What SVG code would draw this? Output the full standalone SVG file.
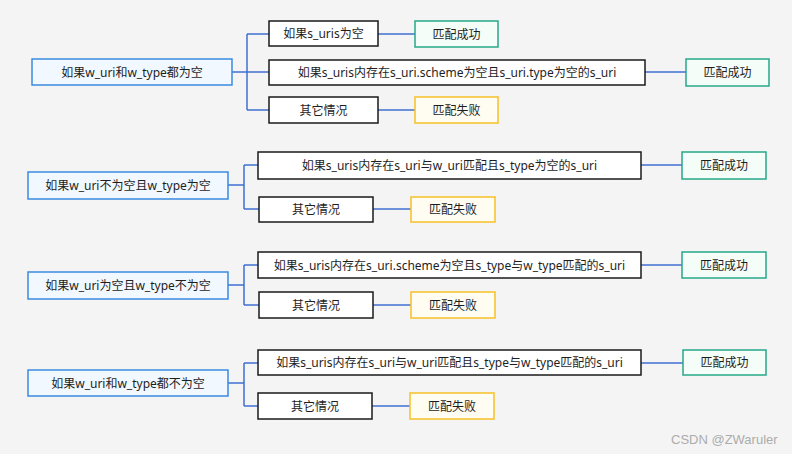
<svg xmlns="http://www.w3.org/2000/svg" width="792" height="454" viewBox="0 0 792 454">
<style>
text{font-family:"Noto Sans","Noto Sans CJK SC",sans-serif;font-size:12px;fill:#1e1e1e;text-anchor:middle;dominant-baseline:central}
.root{fill:#f1f8ff;stroke:#3a8ae0;stroke-width:1.5}
.cond{fill:#ffffff;stroke:#1a1a1a;stroke-width:1.5}
.ok{fill:#f4fdf8;stroke:#26a889;stroke-width:1.5}
.fail{fill:#fffdf2;stroke:#f6c026;stroke-width:1.5}
.c{fill:none;stroke:#3f6fcf;stroke-width:1.5}
.wm{font-family:"Liberation Sans",sans-serif;font-size:13px;fill:#acacac;text-anchor:start}
</style>
<rect x="0" y="0" width="792" height="454" fill="#f4f4f4"/>
<g id="connectors">
<path class="c" d="M232 72H247M247 34V110M247 34H269M247 72H269M247 110H269M378 34H415M645 72H686M378 110H415"/>
<path class="c" d="M228 185H244M244 165V209M244 165H258M244 209H259M641 165H682M373 209H411"/>
<path class="c" d="M228 285H244M244 265V305M244 265H258M244 305H259M641 265H682M373 305H411"/>
<path class="c" d="M228 383H244M244 363V406M244 363H258M244 406H258M641 363H683M372 406H410"/>
</g>
<g id="r1"><rect class="root" x="32" y="59" width="200" height="26"/><text x="132" y="72">如果w_uri和w_type都为空</text></g>
<g id="r1c1"><rect class="cond" x="269" y="21" width="109" height="25"/><text x="323.5" y="33.5">如果s_uris为空</text></g>
<g id="r1c2"><rect class="cond" x="269" y="60" width="376" height="25"/><text x="457" y="72.5">如果s_uris内存在s_uri.scheme为空且s_uri.type为空的s_uri</text></g>
<g id="r1c3"><rect class="cond" x="269" y="97" width="109" height="26"/><text x="323.5" y="110">其它情况</text></g>
<g id="r1o1"><rect class="ok" x="415" y="21" width="83" height="26"/><text x="456.5" y="34">匹配成功</text></g>
<g id="r1o2"><rect class="ok" x="686" y="59" width="83" height="27"/><text x="727.5" y="72.5">匹配成功</text></g>
<g id="r1o3"><rect class="fail" x="415" y="97" width="83" height="26"/><text x="456.5" y="110">匹配失败</text></g>

<g id="r2"><rect class="root" x="28" y="172" width="200" height="27"/><text x="128" y="185.5">如果w_uri不为空且w_type为空</text></g>
<g id="r2c1"><rect class="cond" x="258" y="152" width="383" height="27"/><text x="449.5" y="165.5">如果s_uris内存在s_uri与w_uri匹配且s_type为空的s_uri</text></g>
<g id="r2c2"><rect class="cond" x="259" y="197" width="114" height="25"/><text x="316" y="209.5">其它情况</text></g>
<g id="r2o1"><rect class="ok" x="682" y="152" width="84" height="27"/><text x="724" y="165.5">匹配成功</text></g>
<g id="r2o2"><rect class="fail" x="411" y="197" width="84" height="25"/><text x="453" y="209.5">匹配失败</text></g>

<g id="r3"><rect class="root" x="28" y="272" width="200" height="27"/><text x="128" y="285.5">如果w_uri为空且w_type不为空</text></g>
<g id="r3c1"><rect class="cond" x="258" y="252" width="383" height="26"/><text x="449.5" y="265">如果s_uris内存在s_uri.scheme为空且s_type与w_type匹配的s_uri</text></g>
<g id="r3c2"><rect class="cond" x="259" y="292" width="114" height="26"/><text x="316" y="305">其它情况</text></g>
<g id="r3o1"><rect class="ok" x="682" y="252" width="84" height="26"/><text x="724" y="265">匹配成功</text></g>
<g id="r3o2"><rect class="fail" x="411" y="292" width="84" height="26"/><text x="453" y="305">匹配失败</text></g>

<g id="r4"><rect class="root" x="28" y="370" width="200" height="26"/><text x="128" y="383">如果w_uri和w_type都不为空</text></g>
<g id="r4c1"><rect class="cond" x="258" y="350" width="383" height="25"/><text x="449.5" y="362.5">如果s_uris内存在s_uri与w_uri匹配且s_type与w_type匹配的s_uri</text></g>
<g id="r4c2"><rect class="cond" x="258" y="393" width="114" height="26"/><text x="315" y="406">其它情况</text></g>
<g id="r4o1"><rect class="ok" x="683" y="350" width="83" height="25"/><text x="724.5" y="362.5">匹配成功</text></g>
<g id="r4o2"><rect class="fail" x="410" y="393" width="84" height="26"/><text x="452" y="406">匹配失败</text></g>

<text class="wm" x="671" y="439">CSDN @ZWaruler</text>
</svg>
